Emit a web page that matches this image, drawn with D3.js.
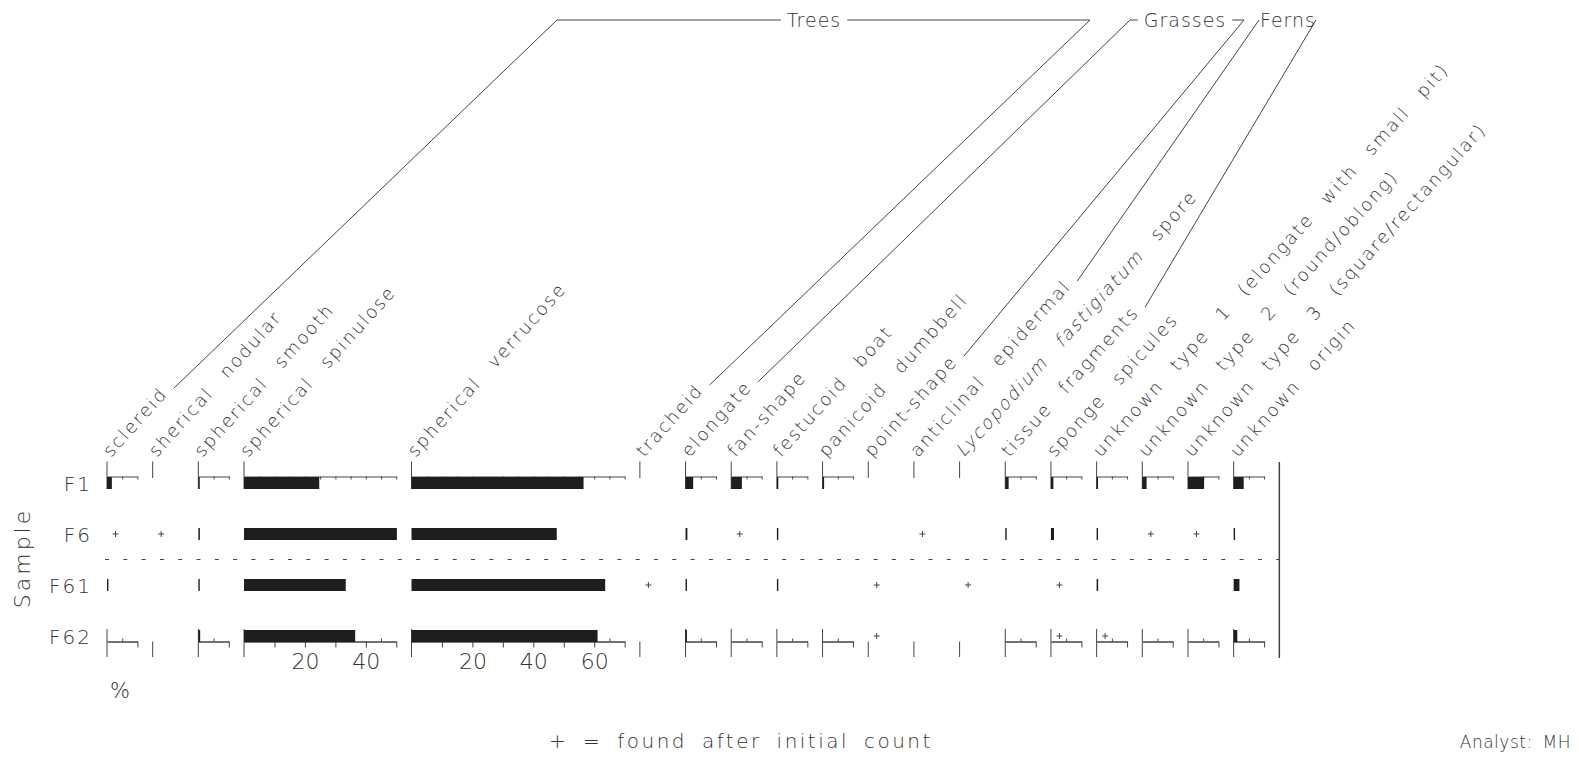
<!DOCTYPE html>
<html>
<head>
<meta charset="utf-8">
<script src="https://cdnjs.cloudflare.com/ajax/libs/d3/7.8.5/d3.min.js"></script>
<style>
  body { margin: 0; background: #fff; }
  svg text { font-family: "DejaVu Sans", sans-serif; font-weight: 200; fill: #333; }
</style>
</head>
<body>
<svg id="myGraph" width="1579" height="758"></svg>
<script>
// column names
var TAXA = ["sclereid", "sherical nodular", "spherical smooth", "spherical spinulose",
  "spherical verrucose", "tracheid", "elongate", "fan-shape", "festucoid boat",
  "panicoid dumbbell", "point-shape", "anticlinal epidermal", "Lycopodium fastigiatum spore",
  "tissue fragments", "sponge spicules", "unknown type 1 (elongate with small pit)",
  "unknown type 2 (round/oblong)", "unknown type 3 (square/rectangular)", "unknown origin"];
// axis length of each column in % (0 = no axis drawn)
var AXIS_MAX = [10, 0, 10, 50, 70, 0, 10, 10, 10, 10, 0, 0, 0, 10, 10, 10, 10, 10, 10];
var SAMPLES = ["F1", "F6", "F61", "F62"];
// percentages per sample, "+" = found after initial count
var F1  = [1.6, 0, 0.4, 24.7, 56.5, 0, 2.5, 3.5, 0.4, 0.5, 0, 0, 0, 1.1, 0.8, 0.3, 1.4, 5.3, 3.3];
var F6  = ["+", "+", 0.5, 50.2, 47.7, 0, 0.6, "+", 0.4, 0, 0, "+", 0, 0.4, 1.0, 0.4, "+", "+", 0.4];
var F61 = [0.3, 0, 0.3, 33.4, 63.6, "+", 0.4, 0, 0.4, 0, "+", 0, "+", 0, "+", 0.5, 0, 0, 1.9];
var F62 = [0, 0, 0.6, 36.5, 61.1, 0, 0.4, 0, 0, 0, "+", 0, 0, 0, "+", "+", 0, 0, 1.2];
var TICK_LABELS = [20, 40, 60];
var GROUP_NAMES = ["Trees", "Grasses", "Ferns"];
var GROUP_FIRST = [0, 6, 11];
var GROUP_LAST = [5, 10, 13];
var ITALIC_PART = "Lycopodium fastigiatum";

var DATA = {"F1": F1, "F6": F6, "F61": F61, "F62": F62};

// layout
var svg = d3.select("#myGraph");
const PX_PER_PCT = 3.045;
const GAP_PCT = 5;
const MIN_PCT = 10;
const LEFT = 107;
const TOP_AXIS_Y = 476.5;
const BOTTOM_AXIS_Y = 641.5;
const BAR_H = 12;
const LABEL_Y = 458;
const ANGLE = 48;
const TOP_Y = 20;
const GROUP_TOP_X = [[557, 1090], [1130, 1244], [1259, 1316]];
const GROUP_TEXT_X = [814, 1185, 1288];

// column offsets in % units
var offsets = [];
var acc = 0;
AXIS_MAX.forEach(function(m){
  offsets.push(acc);
  acc += Math.max(m, MIN_PCT) + GAP_PCT;
});
var xPct = d3.scaleLinear().domain([0, 1]).range([LEFT, LEFT + PX_PER_PCT]);
var colScale = AXIS_MAX.map(function(m, i){
  return d3.scaleLinear().domain([0, 1]).range([xPct(offsets[i]), xPct(offsets[i] + 1)]);
});
var yRow = d3.scalePoint().domain(SAMPLES).range([483, 636]);
var rightX = xPct(acc);

function line(x1, y1, x2, y2, w){
  svg.append("line")
    .attr("x1", x1).attr("y1", y1).attr("x2", x2).attr("y2", y2)
    .attr("stroke", "#444").attr("stroke-width", w || 1);
}

// frames (top and bottom axes)
AXIS_MAX.forEach(function(m, i){
  var sc = colScale[i];
  var x0 = sc(0);
  if(m == 0){
    line(x0, 461.5, x0, 478);
    line(x0, BOTTOM_AXIS_Y, x0, 657);
    return;
  }
  var s = d3.scaleLinear().domain([0, m]).range([x0, sc(m)]);
  var topAxis = d3.axisBottom(s).tickValues(d3.range(5, m + 0.1, 5)).tickSize(3).tickSizeOuter(0).tickFormat("");
  svg.append("g").attr("class", "axis").attr("transform", "translate(0," + TOP_AXIS_Y + ")").call(topAxis);
  line(x0, 461.5, x0, 489);

  var upAxis = d3.axisTop(s).tickValues(d3.range(5, m, 10)).tickSize(3).tickSizeOuter(0).tickFormat("");
  svg.append("g").attr("class", "axis").attr("transform", "translate(0," + BOTTOM_AXIS_Y + ")").call(upAxis);
  var downAxis = d3.axisBottom(s).tickValues(d3.range(10, m + 0.1, 10)).tickSize(6).tickSizeOuter(0)
    .tickFormat(function(d){ return (m > 10 && TICK_LABELS.indexOf(d) >= 0) ? d : ""; });
  svg.append("g").attr("class", "axis").attr("transform", "translate(0," + BOTTOM_AXIS_Y + ")").call(downAxis);
  line(x0, 629, x0, 657);
});
svg.selectAll(".axis path, .axis line").attr("stroke", "#444");
svg.selectAll(".axis text")
  .attr("y", 12)
  .style("font-size", "22px")
  .style("font-family", "'DejaVu Sans', sans-serif")
  .style("font-weight", 200)
  .attr("fill", "#333");

// bars and "+" markers
SAMPLES.forEach(function(s){
  var y = yRow(s);
  DATA[s].forEach(function(v, i){
    var sc = colScale[i];
    if(v === "+"){
      line(sc(0) + 5.5, y, sc(0) + 11.5, y);
      line(sc(0) + 8.5, y - 3, sc(0) + 8.5, y + 3);
    } else if(v > 0){
      svg.append("rect")
        .attr("x", sc(0))
        .attr("y", y - BAR_H / 2)
        .attr("width", Math.max(sc(v) - sc(0), 1.4))
        .attr("height", BAR_H)
        .attr("fill", "#1e1e1e");
    }
  });
});

// dashed separator and right border
svg.append("line")
  .attr("x1", LEFT - 2).attr("x2", rightX)
  .attr("y1", (yRow("F6") + yRow("F61")) / 2).attr("y2", (yRow("F6") + yRow("F61")) / 2)
  .attr("stroke", "#444").attr("stroke-dasharray", "4,14.3");
line(rightX, 462, rightX, 658, 1.5);

// sample labels
svg.selectAll(".sample")
  .data(SAMPLES)
  .enter()
  .append("text")
  .attr("class", "sample")
  .attr("x", 92)
  .attr("y", function(d){ return yRow(d) + 8; })
  .attr("text-anchor", "end")
  .style("font-size", "20px")
  .style("letter-spacing", "2px")
  .text(function(d){ return d; });

svg.append("text")
  .attr("transform", "translate(30,558) rotate(-90)")
  .attr("text-anchor", "middle")
  .style("font-size", "22px")
  .style("letter-spacing", "3px")
  .text("Sample");

svg.append("text").attr("x", 110).attr("y", 698).style("font-size", "21px").text("%");

// column labels (italic part drawn with a skew, since the light face has no italic)
var labelLen = [];
var labels = svg.selectAll(".taxon")
  .data(TAXA)
  .enter()
  .append("g")
  .attr("class", "taxon")
  .attr("transform", function(d, i){
    return "translate(" + (colScale[i](0) + 4) + "," + LABEL_Y + ") rotate(" + (-ANGLE) + ")";
  });
labels.each(function(d, i){
  var g = d3.select(this);
  function part(str, x){
    return g.append("text")
      .attr("x", x)
      .style("font-size", "18px")
      .style("letter-spacing", "2px")
      .style("word-spacing", "12px")
      .text(str);
  }
  if(d.indexOf(ITALIC_PART) == 0){
    var it = part(ITALIC_PART, 0).attr("transform", "skewX(-13)");
    var w = it.node().getComputedTextLength() + 20;
    var rest = part(d.slice(ITALIC_PART.length + 1), w);
    labelLen[i] = w + rest.node().getComputedTextLength();
  } else {
    labelLen[i] = part(d, 0).node().getComputedTextLength();
  }
});

// group brackets
var rad = ANGLE * Math.PI / 180;
function labelEnd(i){
  var len = labelLen[i] + 8;
  return [colScale[i](0) + 4 + len * Math.cos(rad), LABEL_Y - len * Math.sin(rad)];
}
GROUP_NAMES.forEach(function(g, k){
  var a = labelEnd(GROUP_FIRST[k]);
  var b = labelEnd(GROUP_LAST[k]);
  var tx = GROUP_TOP_X[k];
  line(a[0], a[1], tx[0], TOP_Y);
  line(b[0], b[1], tx[1], TOP_Y);
  var t = svg.append("text")
    .attr("x", GROUP_TEXT_X[k]).attr("y", TOP_Y + 7)
    .attr("text-anchor", "middle")
    .style("font-size", "19px")
    .style("letter-spacing", "1px")
    .text(g);
  var w = t.node().getComputedTextLength();
  if(tx[0] < GROUP_TEXT_X[k] - w / 2 - 6) line(tx[0], TOP_Y, GROUP_TEXT_X[k] - w / 2 - 6, TOP_Y);
  if(tx[1] > GROUP_TEXT_X[k] + w / 2 + 6) line(GROUP_TEXT_X[k] + w / 2 + 6, TOP_Y, tx[1], TOP_Y);
});

// footer
svg.append("text").attr("x", 549).attr("y", 748)
  .style("font-size", "20px").style("letter-spacing", "2.5px").style("word-spacing", "6px")
  .text("+ = found after initial count");
svg.append("text").attr("x", 1571).attr("y", 748).attr("text-anchor", "end")
  .style("font-size", "17px").style("letter-spacing", "0.5px").style("word-spacing", "4px")
  .text("Analyst: MH");
</script>
</body>
</html>
